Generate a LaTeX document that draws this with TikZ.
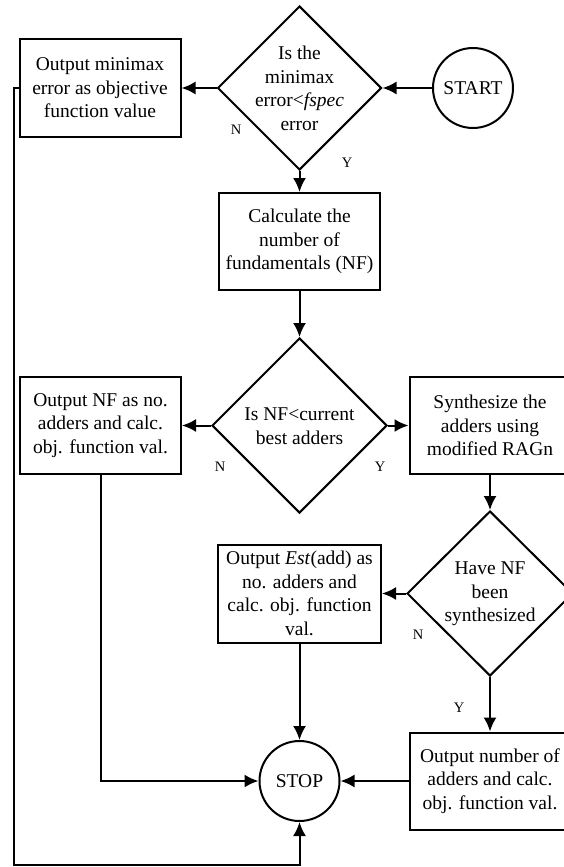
\documentclass[tikz,border=0pt]{standalone}
\usepackage{fontspec}
\setmainfont{Liberation Serif}
\usetikzlibrary{shapes.geometric,arrows.meta}
\begin{document}
\begin{tikzpicture}[x=1pt,y=-1pt,
  line width=2pt,
  txt/.style={font=\fontsize{19.5}{23.6}\selectfont, align=center, inner sep=0pt},
  box/.style={draw, rectangle, minimum width=161pt, minimum height=97pt, inner sep=0pt, txt},
  dia/.style={draw, diamond, inner sep=0pt},
  term/.style={draw, circle, minimum size=80pt, inner sep=0pt, txt},
  lab/.style={font=\fontsize{14.5}{16}\selectfont, inner sep=0pt},
  arr/.style={-{Latex[length=14pt,width=13pt]}}]
\useasboundingbox (0,0) rectangle (563,867);

% nodes
\node[term] (start) at (473,88) {START};
\node[dia, minimum width=164pt, minimum height=164pt] (d1) at (299.5,88) {};
\node[txt] (d1t) at (299.5,88.5) {Is the\\minimax\\error<\textit{fspec}\\error};
\node[box] (b1) at (100,88) {Output minimax\\error as objective\\function value};
\node[box] (b2) at (299.5,241.5) {Calculate the\\number of\\fundamentals (NF)};
\node[dia, minimum width=175pt, minimum height=175pt] (d2) at (299.5,425.5) {};
\node[txt] (d2t) at (299.5,426) {Is NF<current\\best adders};
\node[box] (b3) at (100.5,425.5) {Output NF as no.\\adders and calc.\\obj. function val.};
\node[box] (b4) at (490,425.5) {Synthesize the\\adders using\\modified RAGn};
\node[dia, minimum width=166pt, minimum height=165pt] (d3) at (490,593.5) {};
\node[txt] (d3t) at (490,594) {Have NF\\been\\synthesized};
\node[box, minimum width=163pt, minimum height=98pt] (b5) at (299.5,593.5) {Output \textit{Est}(add) as\\no. adders and\\calc. obj. function\\val.};
\node[box] (b6) at (490,781) {Output number of\\adders and calc.\\obj. function val.};
\node[term] (stop) at (299.5,781) {STOP};

% labels
\node[lab] (n1) at (236,130) {N};
\node[lab] (y1) at (347,163) {Y};
\node[lab] (n2) at (220,467) {N};
\node[lab] (y2) at (380,467) {Y};
\node[lab] (n3) at (418,635) {N};
\node[lab] (y3) at (459,708) {Y};

% connectors
\draw[arr] (start) -- (d1.east);
\draw[arr] (d1.west) -- (b1.east);
\draw[arr] (d1.south) -- (b2.north);
\draw[arr] (b2.south) -- (d2.north);
\draw[arr] (d2.west) -- (b3.east);
\draw[arr] (d2.east) -- (b4.west);
\draw[arr] (b4.south) -- (d3.north);
\draw[arr] (d3.west) -- (b5.east);
\draw[arr] (d3.south) -- (b6.north);
\draw[arr] (b5.south) -- (stop.north);
\draw[arr] (b3.south) |- (stop.west);
\draw[arr] (b6.west) -- (stop.east);
\coordinate (lp) at (13.5,865);
\draw[arr] (b1.west) -- (b1.west -| lp) -- (lp) -| (stop.south);
\end{tikzpicture}
\end{document}
